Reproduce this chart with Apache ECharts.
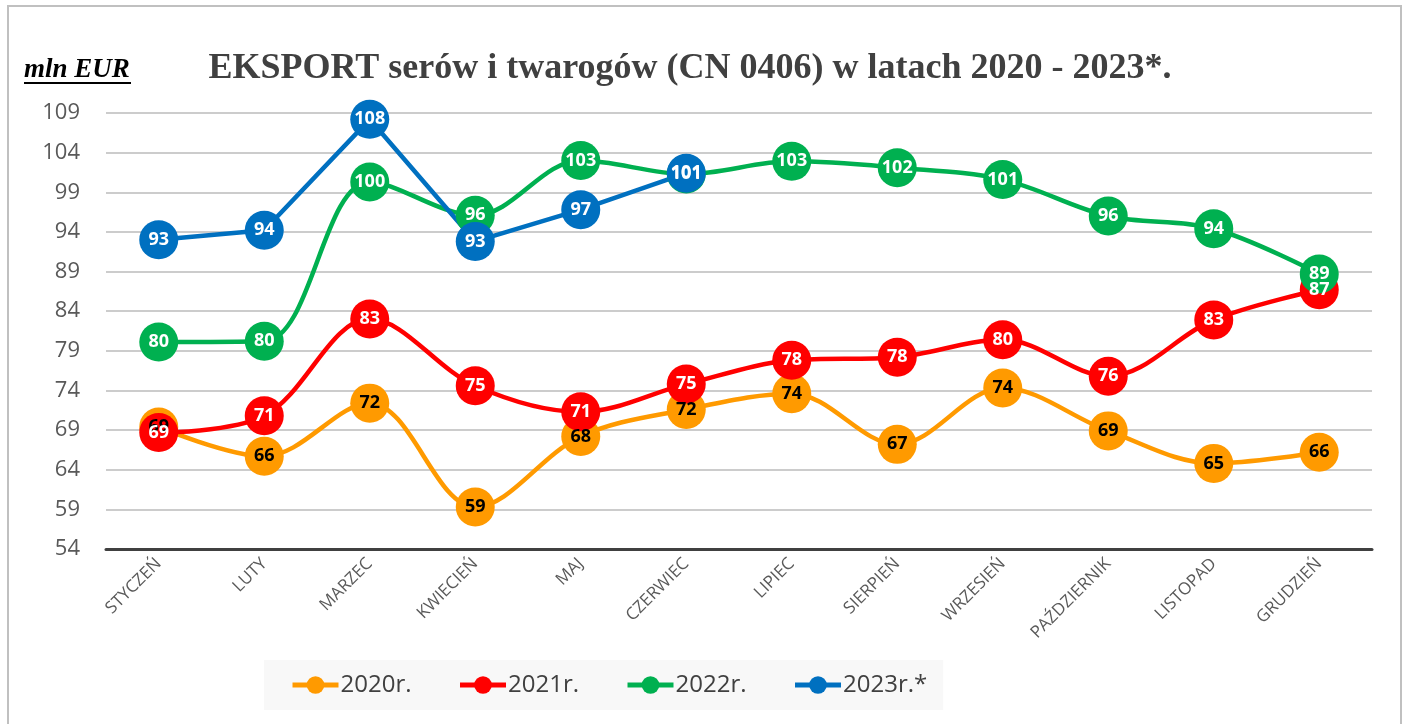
<!DOCTYPE html>
<html>
<head>
<meta charset="utf-8">
<script src="https://cdn.jsdelivr.net/npm/echarts@6/dist/echarts.min.js"></script>
<style>
  html, body { margin: 0; padding: 0; background: #fff; }
  #chart { width: 1406px; height: 724px; }
</style>
</head>
<body>
<div id="chart"></div>
<script>
const months = ['STYCZEŃ', 'LUTY', 'MARZEC', 'KWIECIEŃ', 'MAJ', 'CZERWIEC', 'LIPIEC', 'SIERPIEŃ', 'WRZESIEŃ', 'PAŹDZIERNIK', 'LISTOPAD', 'GRUDZIEŃ']
const y2020 = [69.4, 65.7, 72.4, 59.3, 68.2, 71.6, 73.6, 67.2, 74.3, 68.9, 64.8, 66.2]
const y2021 = [68.7, 70.8, 83.0, 74.6, 71.3, 74.8, 77.8, 78.2, 80.4, 75.8, 82.9, 86.7]
const y2022 = [80.1, 80.2, 100.3, 96.1, 103.0, 101.3, 102.9, 102.1, 100.6, 96.0, 94.4, 88.7]
const y2023 = [93.0, 94.2, 108.2, 92.8, 96.8, 101.4]
const yTicks = { min: 54, max: 109, interval: 5 }

const chart = echarts.init(document.getElementById('chart'))

function lineSeries(name, data, color, labelColor, smooth) {
  return {
    name: name,
    type: 'line',
    data: data,
    smooth: smooth,
    symbol: 'circle',
    symbolSize: 39,
    itemStyle: { color: color },
    lineStyle: { color: color, width: 4.5 },
    label: {
      show: true,
      position: 'inside',
      color: labelColor,
      fontFamily: 'Open Sans',
      fontWeight: 'bold',
      fontSize: 18,
      formatter: (p) => Math.round(p.value)
    },
    emphasis: { disabled: true },
    animation: false
  }
}

chart.setOption({
  backgroundColor: '#fff',
  graphic: [
    {
      type: 'rect',
      shape: { x: 8, y: 6, width: 1393, height: 730 },
      style: { fill: 'none', stroke: '#c0c0c0', lineWidth: 2 },
      silent: true
    },
    {
      type: 'text',
      left: 24,
      top: 57,
      style: {
        text: 'mln EUR',
        font: 'italic bold 27px "Liberation Serif"',
        fill: '#000'
      }
    },
    {
      type: 'line',
      shape: { x1: 24, y1: 83, x2: 131, y2: 83 },
      style: { stroke: '#000', lineWidth: 2 }
    }
  ],
  title: {
    text: 'EKSPORT serów i twarogów (CN 0406) w latach 2020 - 2023*.',
    left: 685,
    textAlign: 'center',
    top: 46,
    textStyle: {
      fontFamily: 'Liberation Serif',
      fontWeight: 'bold',
      fontSize: 36,
      color: '#404040'
    }
  },
  legend: {
    left: 264,
    top: 660,
    height: 52,
    padding: [13, 16, 13, 26],
    backgroundColor: '#f8f8f8',
    itemWidth: 46,
    itemHeight: 22,
    itemGap: 46,
    lineStyle: { width: 5 },
    textStyle: {
      fontFamily: 'Open Sans',
      fontSize: 24,
      color: '#404040',
      padding: [0, 0, 0, -3]
    },
    data: ['2020r.', '2021r.', '2022r.', '2023r.*']
  },
  grid: {
    left: 106,
    right: 34,
    top: 113,
    bottom: 175
  },
  xAxis: {
    type: 'category',
    data: months,
    boundaryGap: true,
    axisLine: { lineStyle: { color: '#404040', width: 3 } },
    axisTick: { show: false },
    axisLabel: {
      rotate: 45,
      margin: 12,
      fontFamily: 'Open Sans',
      fontSize: 17,
      color: '#595959'
    }
  },
  yAxis: {
    type: 'value',
    min: yTicks.min,
    max: yTicks.max,
    interval: yTicks.interval,
    axisLine: { show: false },
    axisTick: { show: false },
    axisLabel: {
      margin: 26,
      fontFamily: 'Open Sans',
      fontSize: 22,
      color: '#595959'
    },
    splitLine: { lineStyle: { color: '#cccccc', width: 2 } }
  },
  series: [
    lineSeries('2020r.', y2020, '#ff9a00', '#000', 0.35),
    lineSeries('2021r.', y2021, '#ff0000', '#fff', 0.35),
    lineSeries('2022r.', y2022, '#00b050', '#fff', 0.35),
    lineSeries('2023r.*', y2023, '#0070c0', '#fff', false)
  ]
})
</script>
</body>
</html>
